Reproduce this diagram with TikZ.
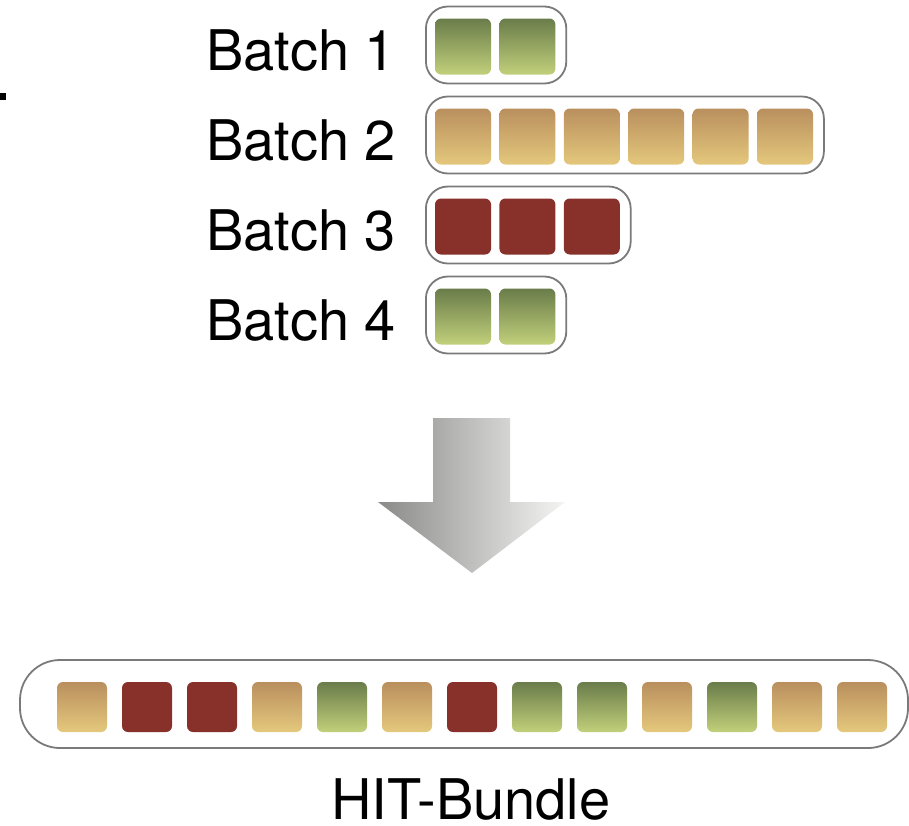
\documentclass[tikz,border=0pt]{standalone}
\usepackage{fontspec}
\setmainfont{TeX Gyre Heros}
\definecolor{tantop}{HTML}{B98F5E}
\definecolor{tanbot}{HTML}{E4C87C}
\definecolor{grntop}{HTML}{6A7C4A}
\definecolor{grnbot}{HTML}{C1D07A}
\definecolor{redsq}{HTML}{88302A}
\definecolor{boxline}{HTML}{7A7A7A}
\definecolor{arrL}{HTML}{8A8A88}
\definecolor{arrR}{HTML}{F4F4F2}
\tikzset{
  sq/.style={minimum width=#1, minimum height=#1, inner sep=0pt, rounded corners=6pt, draw=none},
  sqtan/.style={top color=tantop, bottom color=tanbot},
  sqgreen/.style={top color=grntop, bottom color=grnbot},
  sqred/.style={fill=redsq},
  bbox/.style={draw=boxline, line width=1.8pt, fill=white, inner sep=0pt, rounded corners=#1},
  lbl/.style={inner sep=0pt, font=\fontsize{56}{60}\selectfont}
}
\begin{document}
\begin{tikzpicture}[x=1pt,y=-1pt]
\useasboundingbox (0,0) rectangle (909,825);
% small black fragment at left edge
\fill[black] (0,93) rectangle (6,100);
% batches
\foreach \n/\col/\yc/\lab in {2/sqgreen/45/1, 6/sqtan/135/2, 3/sqred/225/3, 2/sqgreen/315/4} {
  \pgfmathsetmacro{\w}{20+56+(\n-1)*64.4}
  \node[bbox=22pt, minimum width=\w, minimum height=77, anchor=west] (box\lab) at (425,\yc) {};
  \foreach \k in {1,...,\n} {
    \node[sq=56, \col] (s\lab\k) at ({435+28+(\k-1)*64.4},{\yc+1.5}) {};
  }
  \node[lbl, anchor=base west] (t\lab) at (206,{\yc+25}) {Batch \lab};
}
% arrow
\shade[left color=arrL, right color=arrR] (433,418) -- (510,418) -- (510,502) -- (565,502) -- (472,573) -- (378,502) -- (433,502) -- cycle;
% bundle
\node[bbox=40pt, minimum width=888, minimum height=88] (bundle) at (464,704) {};
\foreach \c [count=\i] in {sqtan,sqred,sqred,sqtan,sqgreen,sqtan,sqred,sqgreen,sqgreen,sqtan,sqgreen,sqtan,sqtan} {
  \node[sq=50, \c] (h\i) at ({57+25+(\i-1)*65},707) {};
}
\node[lbl, anchor=base] (hit) at (471,819) {HIT-Bundle};
\end{tikzpicture}
\end{document}
